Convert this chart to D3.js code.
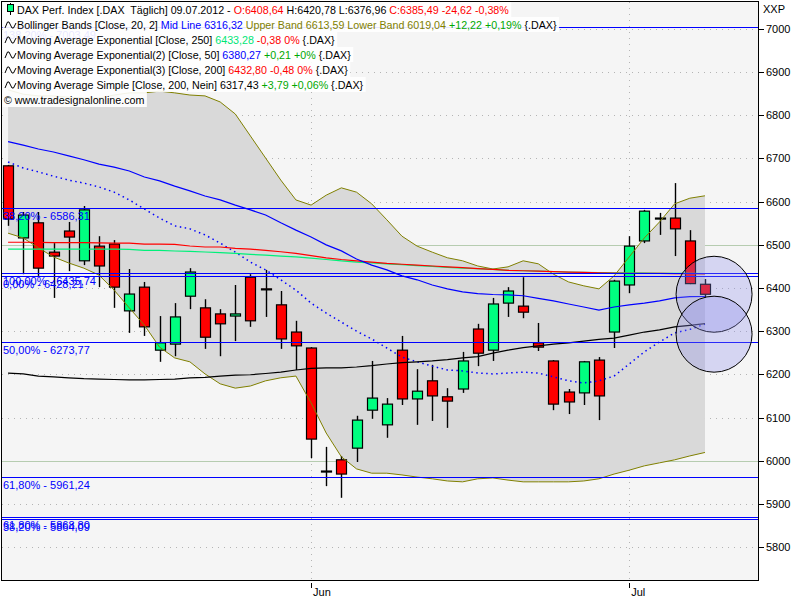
<!DOCTYPE html>
<html><head><meta charset="utf-8">
<script src="https://cdn.jsdelivr.net/npm/d3@7"></script>
<style>
html,body{margin:0;padding:0;background:#fff;}
svg{display:block;font-family:"Liberation Sans",Arial,sans-serif;font-size:11px;}
text{white-space:pre;}
.leg{font-size:10.7px;}
</style></head><body>
<svg id="chart" width="800" height="600"></svg>
<script>
const dates = ["2012-05-04","2012-05-07","2012-05-08","2012-05-09","2012-05-10","2012-05-11","2012-05-14","2012-05-15","2012-05-16","2012-05-17","2012-05-18","2012-05-21","2012-05-22","2012-05-23","2012-05-24","2012-05-25","2012-05-28","2012-05-29","2012-05-30","2012-05-31","2012-06-01","2012-06-04","2012-06-05","2012-06-06","2012-06-07","2012-06-08","2012-06-11","2012-06-12","2012-06-13","2012-06-14","2012-06-15","2012-06-18","2012-06-19","2012-06-20","2012-06-21","2012-06-22","2012-06-25","2012-06-26","2012-06-27","2012-06-28","2012-06-29","2012-07-02","2012-07-03","2012-07-04","2012-07-05","2012-07-06","2012-07-09"];
const open  = [6683,6516,6551,6483,6532,6463,6497,6502,6347,6402,6256,6270,6381,6354,6340,6335,6425,6398,6361,6298,6261,5976,6002,6029,6117,6083,6256,6143,6185,6148,6166,6305,6256,6365,6358,6273,6231,6159,6157,6233,6298,6407,6509,6562,6562,6509,6408.64];
const high  = [6685,6576,6576,6504,6553,6590,6520,6511,6444,6414,6335,6365,6446,6374,6351,6407,6432,6442,6393,6324,6263,6032,6011,6104,6231,6145,6289,6212,6222,6168,6252,6317,6377,6402,6425,6319,6233,6166,6231,6240,6419,6520,6581,6574,6643,6534,6420.78];
const low   = [6544,6432,6428,6377,6439,6453,6402,6354,6296,6289,6229,6242,6351,6259,6242,6277,6310,6333,6259,6210,6006,5941,5914,5997,6097,6053,6129,6083,6092,6076,6157,6219,6231,6333,6330,6254,6117,6108,6129,6094,6261,6388,6504,6523,6474,6409,6376.96];
const close = [6560,6569,6446,6474,6518,6581,6451,6402,6386,6310,6273,6333,6437,6286,6317,6340,6324,6397,6282,6266,6050,5976,5969,6094,6145,6131,6143,6161,6150,6138,6231,6249,6363,6393,6344,6263,6131,6136,6229,6150,6416,6497,6578,6562,6537,6410.11,6385.49];

const bbUpper = [6859,6849,6845,6845,6842,6840,6840,6847,6852,6852,6856,6852,6847,6845,6831,6803,6752,6701,6650,6604,6592,6615,6632,6622,6595,6558,6520,6497,6483,6470,6463,6451,6444,6449,6463,6456,6432,6414,6405,6398,6428,6472,6516,6553,6595,6608,6613.59];
const bbMid   = [6692,6678,6669,6659,6650,6643,6634,6622,6604,6583,6562,6544,6537,6523,6504,6483,6460,6442,6419,6395,6365,6342,6321,6300,6282,6261,6240,6229,6219,6210,6208,6203,6201,6203,6205,6203,6194,6185,6180,6185,6196,6224,6252,6275,6296,6304.10,6316.32];
const bbLower = [6527,6516,6493,6472,6458,6446,6430,6395,6354,6314,6263,6238,6229,6201,6178,6168,6173,6185,6192,6196,6134,6064,6009,5981,5971,5971,5967,5962,5958,5953,5951,5958,5960,5955,5951,5951,5951,5951,5953,5958,5969,5978,5988,5995,6002,6011,6019.04];

const ema250 = [6490,6490,6490,6490,6490,6490,6490,6490,6489.6,6487.3,6487,6485.7,6485,6483.4,6482,6480.4,6478,6476,6474,6472,6469,6466,6463,6460,6458,6456,6454,6452,6450,6448,6446,6445,6443,6441,6440,6439,6438,6437,6436,6435.5,6435,6435,6434.5,6434.2,6434,6433.66,6433.28];
const ema50  = [6739,6731,6722,6715,6706,6697,6687,6680,6671,6657,6648,6636,6625,6613,6604,6592,6581,6569,6551,6534,6518,6500,6486,6467,6453,6442,6428,6419,6407,6398,6391,6387,6385,6384,6382,6376,6370,6363,6356,6349,6356,6361,6365,6370,6377,6380.06,6380.27];
const ema200 = [6506,6506,6505.5,6505,6505,6505,6504.5,6504,6504,6501.5,6501.5,6501,6497.3,6495,6495,6492,6490,6487,6484,6480,6475,6470,6466,6463,6460,6457,6455,6453,6451,6449,6447,6445,6443,6441,6440,6439,6438,6437,6436,6435,6434.5,6434,6434,6433.8,6433.5,6433.28,6432.80];
const sma200 = [6203,6201,6196,6194,6192,6190,6189,6188,6187,6187,6188,6189,6192,6193,6196,6198,6199,6202,6205,6210,6214,6215,6215,6217,6220,6224,6227,6229,6231,6234,6238,6241,6249,6256,6262,6266,6270,6273,6277,6281,6284,6291,6298,6303,6310,6313.64,6317.43];

const fibValues = [7003.49,6586.31,6435.74,6428.21,6273.77,5961.24,5868.80,5864.09];
const fibLabels = ["138,20% - 7003,49","38,20% - 6586,31","100,00% - 6435,74","0,00% - 6428,21","50,00% - 6273,77","61,80% - 5961,24","61,80% - 5868,80","38,20% - 5864,09"];
const yTickValues = [5800,5900,6000,6100,6200,6300,6400,6500,6600,6700,6800,6900,7000];
const levelLines = [6000,6500];
const circleIndex = [46.6,46.6];
const circleValues = [6385.49,6293];
const axisUnit = "XXP";

const legendRows = [
  {icon:"candle", parts:[["DAX Perf. Index [.DAX  Täglich] 09.07.2012 - ","#000"],["O:6408,64","#ff0000"],[" H:6420,78 L:6376,96 ","#000"],["C:6385,49 -24,62 -0,38%","#ff0000"]]},
  {icon:"wave", parts:[["Bollinger Bands [Close, 20, 2] ","#000"],["Mid Line 6316,32","#0000ff"],[" Upper Band 6613,59 Lower Band 6019,04","#808000"],[" +12,22 +0,19%","#00a800"],[" {.DAX}","#000"]]},
  {icon:"wave", parts:[["Moving Average Exponential [Close, 250] ","#000"],["6433,28","#00e676"],[" -0,38 0%","#ff0000"],[" {.DAX}","#000"]]},
  {icon:"wave", parts:[["Moving Average Exponential(2) [Close, 50] ","#000"],["6380,27","#0000ff"],[" +0,21 +0%","#00a800"],[" {.DAX}","#000"]]},
  {icon:"wave", parts:[["Moving Average Exponential(3) [Close, 200] ","#000"],["6432,80 -0,48 0%","#ff0000"],[" {.DAX}","#000"]]},
  {icon:"wave", parts:[["Moving Average Simple [Close, 200, Nein] 6317,43","#000"],[" +3,79 +0,06%","#00a800"],[" {.DAX}","#000"]]},
  {icon:"none", parts:[["© www.tradesignalonline.com","#000"]]}
];

const svg = d3.select("#chart");
const L = 2, R = 758, T = 2, B = 580;
const n = close.length;
const x = d3.scaleLinear().domain([-0.4, 49.5]).range([L, R]);
const y = d3.scaleLinear().domain([5723.6, 7062.5]).range([B, T]);

svg.append("defs").append("clipPath").attr("id","plotclip")
  .append("rect").attr("x",L).attr("y",T).attr("width",R-L).attr("height",B-T);

svg.append("rect").attr("x",L).attr("y",T).attr("width",R-L).attr("height",B-T).attr("fill","#f5f5f5");
const plot = svg.append("g").attr("clip-path","url(#plotclip)");

// grid
plot.selectAll(".hgrid").data(yTickValues).join("line")
  .attr("x1",L).attr("x2",R).attr("y1",d=>Math.round(y(d))+0.5).attr("y2",d=>Math.round(y(d))+0.5)
  .attr("stroke","#b4b4b4").attr("stroke-dasharray","1,5");
const parse = d3.timeParse("%Y-%m-%d");
const dd = dates.map(parse);
const monthStarts = d3.range(1,n).filter(i => dd[i].getMonth() !== dd[i-1].getMonth());
plot.selectAll(".vgrid").data(monthStarts).join("line")
  .attr("x1",i=>Math.round(x(i))+0.5).attr("x2",i=>Math.round(x(i))+0.5).attr("y1",T).attr("y2",B)
  .attr("stroke","#b4b4b4").attr("stroke-dasharray","1,5");
plot.selectAll(".lvl").data(levelLines).join("line")
  .attr("x1",L).attr("x2",R).attr("y1",d=>Math.round(y(d))+0.5).attr("y2",d=>Math.round(y(d))+0.5)
  .attr("stroke","#b6ccb0").attr("stroke-width",1);

// bollinger fill
const idx = d3.range(n);
plot.append("path").datum(idx)
  .attr("d", d3.area().x(i=>x(i)).y0(i=>y(bbLower[i])).y1(i=>y(bbUpper[i])))
  .attr("fill","#d9d9d9");

// candles
const bw = 10;
const cg = plot.append("g");
cg.selectAll(".wick").data(idx).join("line")
  .attr("x1",i=>Math.round(x(i))+0.5).attr("x2",i=>Math.round(x(i))+0.5)
  .attr("y1",i=>y(high[i])).attr("y2",i=>y(low[i]))
  .attr("stroke","#000").attr("stroke-width",1.4);
cg.selectAll(".body").data(idx).join("rect")
  .attr("x",i=>Math.round(x(i))-bw/2+0.5)
  .attr("y",i=>y(Math.max(open[i],close[i])))
  .attr("width",bw)
  .attr("height",i=>Math.max(1, Math.abs(y(open[i])-y(close[i]))))
  .attr("fill",i=>close[i]>=open[i] ? "#00ff80" : "#ff0000")
  .attr("stroke","#000").attr("stroke-width",1.2);

// lines
const ln = arr => d3.line().x(i=>x(i)).y(i=>y(arr[i]))(idx);
plot.append("path").attr("d",ln(bbUpper)).attr("fill","none").attr("stroke","#808000").attr("stroke-width",1);
plot.append("path").attr("d",ln(bbLower)).attr("fill","none").attr("stroke","#808000").attr("stroke-width",1);
plot.append("path").attr("d",ln(bbMid)).attr("fill","none").attr("stroke","#0000ff").attr("stroke-width",1.5).attr("stroke-dasharray","1.5,3.5");
plot.append("path").attr("d",ln(ema250)).attr("fill","none").attr("stroke","#00f07a").attr("stroke-width",1.2);
plot.append("path").attr("d",ln(ema200)).attr("fill","none").attr("stroke","#ff0000").attr("stroke-width",1.2);
plot.append("path").attr("d",ln(ema50)).attr("fill","none").attr("stroke","#0000ff").attr("stroke-width",1.2);
plot.append("path").attr("d",ln(sma200)).attr("fill","none").attr("stroke","#000").attr("stroke-width",1.2);

// fibonacci
const fi = d3.range(fibValues.length);
plot.selectAll(".fib").data(fi).join("line")
  .attr("x1",L).attr("x2",R).attr("y1",i=>Math.round(y(fibValues[i]))+0.5).attr("y2",i=>Math.round(y(fibValues[i]))+0.5)
  .attr("stroke","#0000ff").attr("stroke-width",1.2);
plot.selectAll(".fibt").data(fi).join("text")
  .attr("x",3).attr("y",i=>y(fibValues[i])+12)
  .attr("fill","#0000ff").text(i=>fibLabels[i]);

// circles
plot.selectAll(".circ").data([0,1]).join("circle")
  .attr("cx",i=>x(circleIndex[i])).attr("cy",i=>y(circleValues[i])).attr("r",38)
  .attr("fill","rgba(140,140,235,0.3)").attr("stroke","#000").attr("stroke-width",1);

// legend
legendRows.forEach((row,k)=>{
  const base = 14 + 15*k;
  const g = svg.append("g").attr("class","leg");
  const tx = row.icon==="none" ? 4 : 17;
  const t = g.append("text").attr("x",tx).attr("y",base);
  row.parts.forEach(p=>t.append("tspan").attr("fill",p[1]).text(p[0]));
  const w = t.node().getComputedTextLength();
  g.insert("rect","text").attr("x",L+0.5).attr("y",base-12).attr("width",tx+w+2-L).attr("height",15)
    .attr("fill","#fff").attr("fill-opacity",0.9);
  if(row.icon==="candle"){
    g.append("line").attr("x1",10.5).attr("x2",10.5).attr("y1",base-11).attr("y2",base+1).attr("stroke","#000");
    g.append("rect").attr("x",7.5).attr("y",base-9.5).attr("width",6).attr("height",7).attr("fill","#00ff80").attr("stroke","#000");
  } else if(row.icon==="wave"){
    const c = base-4;
    g.append("path").attr("d",`M5,${c+3} L7.5,${c-3} L9,${c-3} L12,${c+3} L13.5,${c+3} L16,${c-2}`)
      .attr("fill","none").attr("stroke","#000").attr("stroke-width",1);
  }
});

// frame
svg.append("rect").attr("x",L-0.5).attr("y",T-0.5).attr("width",R-L+1).attr("height",B-T+1)
  .attr("fill","none").attr("stroke","#000").attr("stroke-width",1);

// y axis
const ya = svg.append("g");
ya.selectAll("line").data(yTickValues).join("line")
  .attr("x1",R+1).attr("x2",R+6).attr("y1",d=>Math.round(y(d))+0.5).attr("y2",d=>Math.round(y(d))+0.5).attr("stroke","#000");
ya.selectAll("text").data(yTickValues).join("text")
  .attr("x",R+8).attr("y",d=>y(d)+4).attr("fill","#000").text(d=>d);
svg.append("text").attr("x",R+5).attr("y",13).text(axisUnit);

// x axis
const fmt = d3.timeFormat("%b");
const xa = svg.append("g");
xa.selectAll("line").data(monthStarts).join("line")
  .attr("x1",i=>Math.round(x(i))+0.5).attr("x2",i=>Math.round(x(i))+0.5).attr("y1",B+3).attr("y2",B+8).attr("stroke","#000");
xa.selectAll("text").data(monthStarts).join("text")
  .attr("x",i=>x(i)+2).attr("y",B+16).text(i=>fmt(dd[i]));
</script>
</body></html>
